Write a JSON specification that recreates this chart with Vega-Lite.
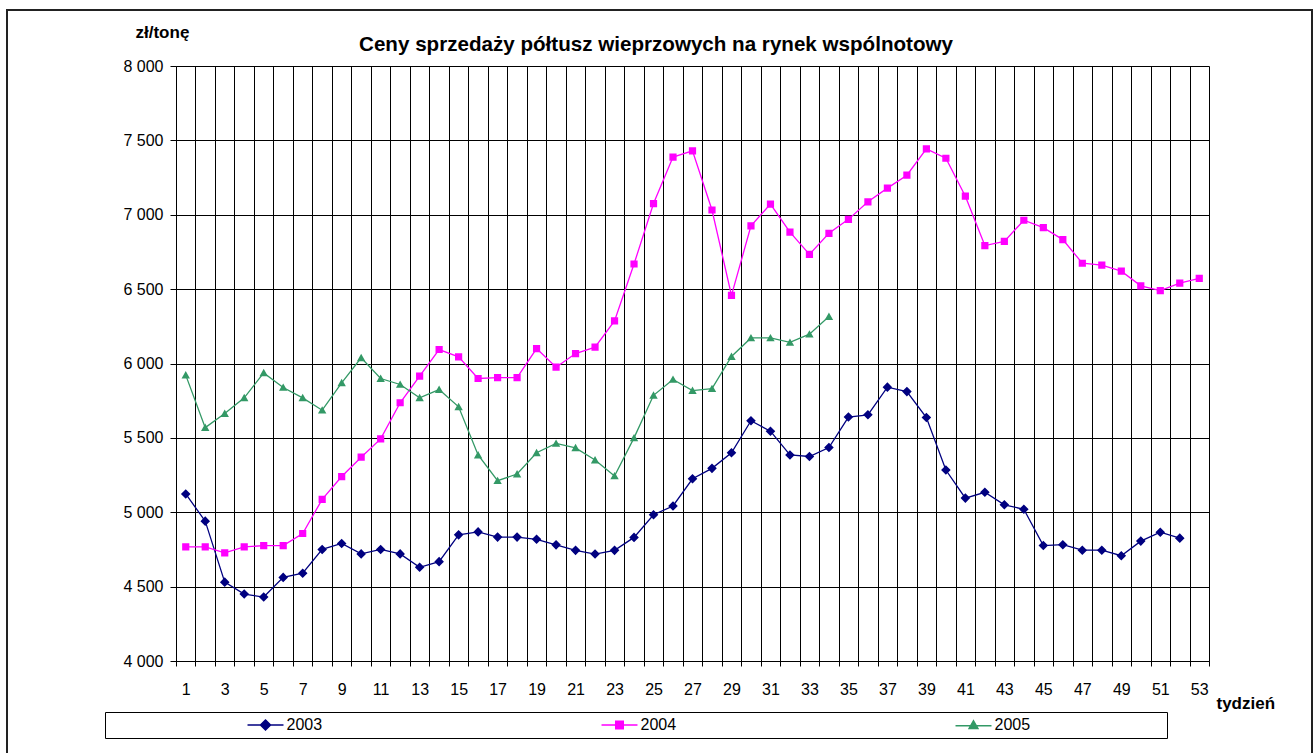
{
  "$schema": "https://vega.github.io/schema/vega-lite/v6.json",
  "width": 1305,
  "height": 745,
  "autosize": {"type": "none"},
  "padding": {"left": 7, "top": 10, "right": 4, "bottom": 0},
  "background": "#ffffff",
  "config": {
    "font": "Liberation Sans",
    "view": {"stroke": "#222222", "strokeWidth": 2}
  },
  "title": {
    "text": "Ceny sprzedaży półtusz wieprzowych na rynek wspólnotowy",
    "font": "Liberation Sans",
    "fontSize": 20.6,
    "fontWeight": "bold",
    "color": "#000000",
    "anchor": "middle",
    "frame": "group",
    "dx": -3.5,
    "dy": 46,
    "offset": 0
  },
  "data": {
    "values": [
      {"year": "2003", "week": 1, "price": 5123}, {"year": "2003", "week": 2, "price": 4940}, {"year": "2003", "week": 3, "price": 4530}, {"year": "2003", "week": 4, "price": 4450}, {"year": "2003", "week": 5, "price": 4430}, {"year": "2003", "week": 6, "price": 4562}, {"year": "2003", "week": 7, "price": 4590}, {"year": "2003", "week": 8, "price": 4750}, {"year": "2003", "week": 9, "price": 4790}, {"year": "2003", "week": 10, "price": 4720}, {"year": "2003", "week": 11, "price": 4750}, {"year": "2003", "week": 12, "price": 4720}, {"year": "2003", "week": 13, "price": 4630}, {"year": "2003", "week": 14, "price": 4668}, {"year": "2003", "week": 15, "price": 4848}, {"year": "2003", "week": 16, "price": 4868}, {"year": "2003", "week": 17, "price": 4833}, {"year": "2003", "week": 18, "price": 4833}, {"year": "2003", "week": 19, "price": 4818}, {"year": "2003", "week": 20, "price": 4781}, {"year": "2003", "week": 21, "price": 4744}, {"year": "2003", "week": 22, "price": 4719}, {"year": "2003", "week": 23, "price": 4744}, {"year": "2003", "week": 24, "price": 4831}, {"year": "2003", "week": 25, "price": 4983}, {"year": "2003", "week": 26, "price": 5042}, {"year": "2003", "week": 27, "price": 5225}, {"year": "2003", "week": 28, "price": 5295}, {"year": "2003", "week": 29, "price": 5400}, {"year": "2003", "week": 30, "price": 5615}, {"year": "2003", "week": 31, "price": 5545}, {"year": "2003", "week": 32, "price": 5385}, {"year": "2003", "week": 33, "price": 5375}, {"year": "2003", "week": 34, "price": 5435}, {"year": "2003", "week": 35, "price": 5640}, {"year": "2003", "week": 36, "price": 5655}, {"year": "2003", "week": 37, "price": 5841}, {"year": "2003", "week": 38, "price": 5811}, {"year": "2003", "week": 39, "price": 5637}, {"year": "2003", "week": 40, "price": 5284}, {"year": "2003", "week": 41, "price": 5095}, {"year": "2003", "week": 42, "price": 5134}, {"year": "2003", "week": 43, "price": 5050}, {"year": "2003", "week": 44, "price": 5020}, {"year": "2003", "week": 45, "price": 4776}, {"year": "2003", "week": 46, "price": 4782}, {"year": "2003", "week": 47, "price": 4745}, {"year": "2003", "week": 48, "price": 4745}, {"year": "2003", "week": 49, "price": 4708}, {"year": "2003", "week": 50, "price": 4806}, {"year": "2003", "week": 51, "price": 4866}, {"year": "2003", "week": 52, "price": 4826},
      {"year": "2004", "week": 1, "price": 4767}, {"year": "2004", "week": 2, "price": 4767}, {"year": "2004", "week": 3, "price": 4727}, {"year": "2004", "week": 4, "price": 4767}, {"year": "2004", "week": 5, "price": 4776}, {"year": "2004", "week": 6, "price": 4776}, {"year": "2004", "week": 7, "price": 4857}, {"year": "2004", "week": 8, "price": 5087}, {"year": "2004", "week": 9, "price": 5240}, {"year": "2004", "week": 10, "price": 5370}, {"year": "2004", "week": 11, "price": 5493}, {"year": "2004", "week": 12, "price": 5736}, {"year": "2004", "week": 13, "price": 5915}, {"year": "2004", "week": 14, "price": 6094}, {"year": "2004", "week": 15, "price": 6045}, {"year": "2004", "week": 16, "price": 5899}, {"year": "2004", "week": 17, "price": 5905}, {"year": "2004", "week": 18, "price": 5905}, {"year": "2004", "week": 19, "price": 6100}, {"year": "2004", "week": 20, "price": 5975}, {"year": "2004", "week": 21, "price": 6067}, {"year": "2004", "week": 22, "price": 6110}, {"year": "2004", "week": 23, "price": 6286}, {"year": "2004", "week": 24, "price": 6669}, {"year": "2004", "week": 25, "price": 7075}, {"year": "2004", "week": 26, "price": 7388}, {"year": "2004", "week": 27, "price": 7430}, {"year": "2004", "week": 28, "price": 7032}, {"year": "2004", "week": 29, "price": 6458}, {"year": "2004", "week": 30, "price": 6925}, {"year": "2004", "week": 31, "price": 7072}, {"year": "2004", "week": 32, "price": 6883}, {"year": "2004", "week": 33, "price": 6734}, {"year": "2004", "week": 34, "price": 6875}, {"year": "2004", "week": 35, "price": 6969}, {"year": "2004", "week": 36, "price": 7087}, {"year": "2004", "week": 37, "price": 7179}, {"year": "2004", "week": 38, "price": 7266}, {"year": "2004", "week": 39, "price": 7443}, {"year": "2004", "week": 40, "price": 7380}, {"year": "2004", "week": 41, "price": 7125}, {"year": "2004", "week": 42, "price": 6793}, {"year": "2004", "week": 43, "price": 6821}, {"year": "2004", "week": 44, "price": 6963}, {"year": "2004", "week": 45, "price": 6913}, {"year": "2004", "week": 46, "price": 6833}, {"year": "2004", "week": 47, "price": 6674}, {"year": "2004", "week": 48, "price": 6661}, {"year": "2004", "week": 49, "price": 6621}, {"year": "2004", "week": 50, "price": 6522}, {"year": "2004", "week": 51, "price": 6490}, {"year": "2004", "week": 52, "price": 6540}, {"year": "2004", "week": 53, "price": 6572},
      {"year": "2005", "week": 1, "price": 5922}, {"year": "2005", "week": 2, "price": 5569}, {"year": "2005", "week": 3, "price": 5664}, {"year": "2005", "week": 4, "price": 5769}, {"year": "2005", "week": 5, "price": 5937}, {"year": "2005", "week": 6, "price": 5839}, {"year": "2005", "week": 7, "price": 5769}, {"year": "2005", "week": 8, "price": 5686}, {"year": "2005", "week": 9, "price": 5870}, {"year": "2005", "week": 10, "price": 6038}, {"year": "2005", "week": 11, "price": 5899}, {"year": "2005", "week": 12, "price": 5859}, {"year": "2005", "week": 13, "price": 5769}, {"year": "2005", "week": 14, "price": 5825}, {"year": "2005", "week": 15, "price": 5709}, {"year": "2005", "week": 16, "price": 5385}, {"year": "2005", "week": 17, "price": 5212}, {"year": "2005", "week": 18, "price": 5257}, {"year": "2005", "week": 19, "price": 5400}, {"year": "2005", "week": 20, "price": 5463}, {"year": "2005", "week": 21, "price": 5433}, {"year": "2005", "week": 22, "price": 5351}, {"year": "2005", "week": 23, "price": 5244}, {"year": "2005", "week": 24, "price": 5500}, {"year": "2005", "week": 25, "price": 5786}, {"year": "2005", "week": 26, "price": 5893}, {"year": "2005", "week": 27, "price": 5818}, {"year": "2005", "week": 28, "price": 5831}, {"year": "2005", "week": 29, "price": 6047}, {"year": "2005", "week": 30, "price": 6172}, {"year": "2005", "week": 31, "price": 6172}, {"year": "2005", "week": 32, "price": 6142}, {"year": "2005", "week": 33, "price": 6197}, {"year": "2005", "week": 34, "price": 6316}
    ]
  },
  "encoding": {
    "y": {
      "field": "price",
      "type": "quantitative",
      "scale": {"domain": [4000, 8000], "range": [651, 56], "nice": false, "zero": false},
      "axis": {
        "offset": -169,
        "values": [4000, 4500, 5000, 5500, 6000, 6500, 7000, 7500, 8000],
        "labelExpr": "replace(format(datum.value, ','), ',', ' ')",
        "labelFontSize": 16,
        "labelColor": "#000000",
        "labelPadding": 7,
        "grid": true,
        "gridColor": "#000000",
        "gridOpacity": 1,
        "gridWidth": 1,
        "domainColor": "#000000",
        "tickColor": "#000000",
        "tickSize": 6,
        "title": "zł/tonę",
        "titleAngle": 0,
        "titleX": -41,
        "titleY": 27,
        "titleAlign": "left",
        "titleBaseline": "alphabetic",
        "titleFontSize": 17,
        "titleFontWeight": "bold",
        "titleColor": "#000000"
      }
    },
    "color": {
      "field": "year",
      "type": "nominal",
      "scale": {"domain": ["2003", "2004", "2005"], "range": ["#000080", "#FF00FF", "#339966"]},
      "legend": {
        "orient": "none",
        "legendX": 98,
        "legendY": 702,
        "direction": "horizontal",
        "columns": 3,
        "title": "\u2800\u00a0\u00a0\u00a0\u00a0\u00a0\u00a0\u00a0\u00a0\u00a0\u00a0\u00a0\u00a0\u00a0\u00a0\u00a0\u00a0\u00a0\u00a0\u00a0\u00a0\u00a0\u00a0\u00a0\u00a0\u00a0\u00a0\u00a0\u00a0\u00a0\u2800",
        "titleOrient": "left",
        "titleFontSize": 14,
        "titlePadding": 5,
        "padding": 4.5,
        "strokeColor": "#000000",
        "fillColor": "#ffffff",
        "labelFontSize": 16,
        "labelColor": "#000000",
        "labelLimit": 1000,
        "labelOffset": 13,
        "labelExpr": "datum.label == '2005' ? '2005\u00a0\u00a0\u00a0\u00a0\u00a0\u00a0\u00a0\u00a0\u00a0\u00a0\u00a0\u00a0\u00a0\u00a0\u00a0\u00a0\u00a0\u00a0\u00a0\u00a0\u00a0\u00a0\u00a0\u00a0\u00a0\u00a0\u00a0\u2800' : datum.label",
        "symbolSize": 70,
        "symbolOffset": 10,
        "symbolStrokeWidth": 1.5,
        "symbolStrokeColor": {"expr": "scale('color', datum.value)"},
        "columnPadding": 276
      }
    }
  },
  "layer": [
    {
      "mark": {"type": "line", "strokeWidth": 1.3},
      "encoding": {
        "x": {
          "field": "week",
          "type": "quantitative",
          "scale": {"domain": [0.5, 53.5], "range": [169, 1202], "nice": false, "zero": false},
          "axis": {
            "orient": "top",
            "values": [0.5, 1.5, 2.5, 3.5, 4.5, 5.5, 6.5, 7.5, 8.5, 9.5, 10.5, 11.5, 12.5, 13.5, 14.5, 15.5, 16.5, 17.5, 18.5, 19.5, 20.5, 21.5, 22.5, 23.5, 24.5, 25.5, 26.5, 27.5, 28.5, 29.5, 30.5, 31.5, 32.5, 33.5, 34.5, 35.5, 36.5, 37.5, 38.5, 39.5, 40.5, 41.5, 42.5, 43.5, 44.5, 45.5, 46.5, 47.5, 48.5, 49.5, 50.5, 51.5, 52.5, 53.5],
            "grid": true,
            "gridColor": "#000000",
            "gridOpacity": 1,
            "gridWidth": 1,
            "labels": false,
            "ticks": false,
            "domain": false,
            "title": null
          }
        }
      }
    },
    {
      "mark": {"type": "point", "filled": true, "opacity": 1, "size": 64, "strokeWidth": 0},
      "encoding": {
        "x": {
          "field": "week",
          "type": "quantitative",
          "scale": {"domain": [0.5, 53.5], "range": [169, 1202], "nice": false, "zero": false},
          "axis": {
            "orient": "bottom",
            "offset": -94,
            "values": [0.5, 1.5, 2.5, 3.5, 4.5, 5.5, 6.5, 7.5, 8.5, 9.5, 10.5, 11.5, 12.5, 13.5, 14.5, 15.5, 16.5, 17.5, 18.5, 19.5, 20.5, 21.5, 22.5, 23.5, 24.5, 25.5, 26.5, 27.5, 28.5, 29.5, 30.5, 31.5, 32.5, 33.5, 34.5, 35.5, 36.5, 37.5, 38.5, 39.5, 40.5, 41.5, 42.5, 43.5, 44.5, 45.5, 46.5, 47.5, 48.5, 49.5, 50.5, 51.5, 52.5, 53.5],
            "labelExpr": "(datum.value + 0.5) % 2 == 1 ? '' + (datum.value + 0.5) : ''",
            "labelOffset": 9.75,
            "labelPadding": 15,
            "labelFontSize": 16,
            "labelColor": "#000000",
            "labelOverlap": false,
            "labelFlush": false,
            "labelBound": false,
            "grid": false,
            "domainColor": "#000000",
            "tickColor": "#000000",
            "tickSize": 5,
            "title": "tydzień",
            "titleX": 1209,
            "titleY": 47,
            "titleAlign": "left",
            "titleBaseline": "alphabetic",
            "titleFontSize": 17,
            "titleFontWeight": "bold",
            "titleColor": "#000000"
          }
        },
        "shape": {
          "field": "year",
          "type": "nominal",
          "scale": {"domain": ["2003", "2004", "2005"], "range": ["M-4.3,0H4.3M0,-1.2L1.2,0L0,1.2L-1.2,0Z", "M-4.3,0H4.3M-0.9,-0.9H0.9V0.9H-0.9Z", "M-4.3,0.2H4.3M0,-1L1.05,0.85H-1.05Z"]},
          "legend": null
        }
      }
    }
  ],
  "resolve": {"axis": {"x": "independent"}}
}
